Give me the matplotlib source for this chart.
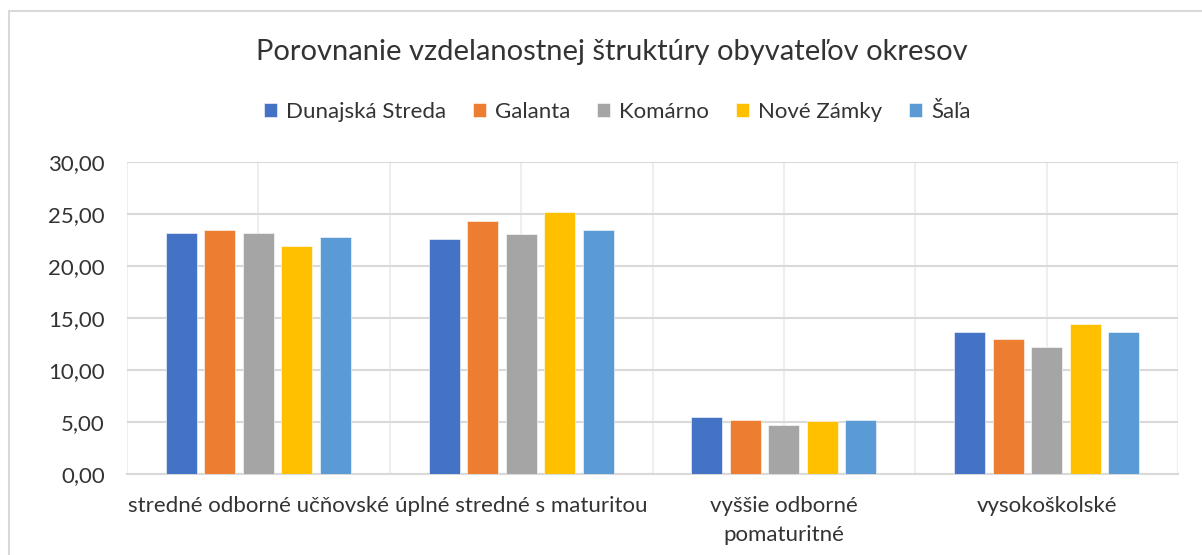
import numpy as np
import matplotlib
import matplotlib.pyplot as plt
from matplotlib.patches import Rectangle
from matplotlib.ticker import FuncFormatter, MultipleLocator

matplotlib.use("Agg")
plt.rcParams["font.family"] = ["Lato", "DejaVu Sans"]

title = "Porovnanie vzdelanostnej štruktúry obyvateľov okresov"
categories = [
    "stredné odborné učňovské",
    "úplné stredné s maturitou",
    "vyššie odborné\npomaturitné",
    "vysokoškolské",
]
districts = ["Dunajská Streda", "Galanta", "Komárno", "Nové Zámky", "Šaľa"]
colors = ["#4472C4", "#ED7D31", "#A5A5A5", "#FFC000", "#5B9BD5"]

dunajska_streda = [23.17, 22.56, 5.45, 13.69]
galanta = [23.43, 24.29, 5.19, 12.95]
komarno = [23.17, 23.04, 4.74, 12.21]
nove_zamky = [21.95, 25.16, 5.06, 14.42]
sala = [22.82, 23.43, 5.19, 13.69]
series = [dunajska_streda, galanta, komarno, nove_zamky, sala]

text_col = "#333333"
W, H = 1202, 555
fig = plt.figure(figsize=(W / 100, H / 100), dpi=100)

# chart frame (runs off the right and bottom edge like the screenshot)
fig.patches.append(Rectangle((9 / W, -0.1), 1.2, 1 - 11 / H + 0.1,
                             transform=fig.transFigure, fill=False,
                             edgecolor="#d9d9d9", linewidth=1.5))

ax = fig.add_axes([127 / W, (H - 474) / H, (1178 - 127) / W, (474 - 162) / H])

x = np.arange(len(categories))
slot = 0.1466
width = 0.118
for i, (name, vals) in enumerate(zip(districts, series)):
    ax.bar(x + (i - 2) * slot, vals, width, color=colors[i], label=name,
           edgecolor="white", linewidth=0.4, zorder=3)

ax.set_xlim(-0.5, 3.5)
ax.set_ylim(0, 30)
ax.yaxis.set_major_locator(MultipleLocator(5))
ax.yaxis.set_major_formatter(FuncFormatter(lambda v, p: f"{v:.2f}".replace(".", ",")))
ax.set_xticks(x)
ax.set_xticklabels(categories, linespacing=1.55)
ax.set_xticks(np.arange(-0.5, 3.6, 0.5), minor=True)

ax.grid(axis="y", which="major", color="#d9d9d9", linewidth=1.5, zorder=0)
ax.grid(axis="x", which="minor", color="#eeeeee", linewidth=1.5, zorder=0)
ax.grid(axis="x", which="major", color="#eeeeee", linewidth=1.5, zorder=0)
for s in ["top", "left", "right"]:
    ax.spines[s].set_visible(False)
ax.spines["bottom"].set_color("#d9d9d9")
ax.spines["bottom"].set_linewidth(1.5)

ax.tick_params(axis="both", which="both", length=0, labelsize=16, colors=text_col)
ax.tick_params(axis="y", pad=16)
ax.tick_params(axis="x", pad=16)

fig.text(612 / W, 1 - 52 / H, title, ha="center", va="center",
         fontsize=21, color=text_col)

fig.legend(loc="center", bbox_to_anchor=(617 / W, 1 - 112 / H), ncol=5,
           frameon=False, fontsize=16, handlelength=0.6, handleheight=0.6,
           handletextpad=0.4, columnspacing=1.2, labelcolor=text_col)

fig.savefig("out.png", dpi=100)
